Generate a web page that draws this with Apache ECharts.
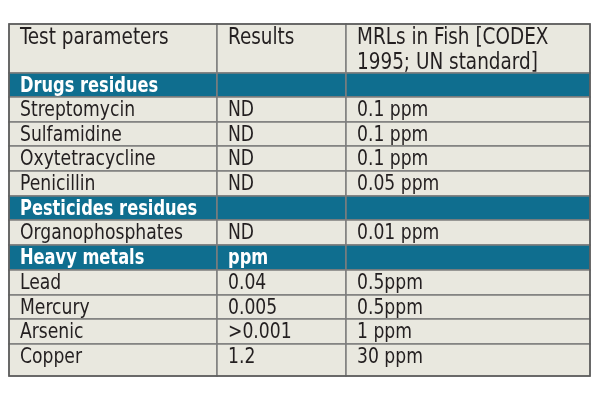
<!DOCTYPE html>
<html>
<head>
<meta charset="utf-8">
<script src="https://cdn.jsdelivr.net/npm/echarts@6/dist/echarts.min.js"></script>
<style>
  html, body { margin: 0; padding: 0; background: #fff; }
  #main { width: 600px; height: 400px; }
</style>
</head>
<body>
<div id="main"></div>
<script>
// table content
const headers = ['Test parameters', 'Results', 'MRLs in Fish [CODEX\n1995; UN standard]']
const parameters = ['Drugs residues', 'Streptomycin', 'Sulfamidine', 'Oxytetracycline', 'Penicillin',
    'Pesticides residues', 'Organophosphates', 'Heavy metals', 'Lead', 'Mercury', 'Arsenic', 'Copper']
const results = ['', 'ND', 'ND', 'ND', 'ND', '', 'ND', 'ppm', '0.04', '0.005', '>0.001', '1.2']
const limits = ['', '0.1 ppm', '0.1 ppm', '0.1 ppm', '0.05 ppm', '', '0.01 ppm', '', '0.5ppm', '0.5ppm', '1 ppm', '30 ppm']
const sectionRows = ['Drugs residues', 'Pesticides residues', 'Heavy metals']

// layout (axis units = px inside the grid)
const colEdges = [0, 208, 337, 581]
const rowEdges = [0, 49, 73, 98, 122, 147, 172, 196, 221, 246, 271, 295, 320, 352]

const FONT = '"DejaVu Sans Condensed", "DejaVu Sans", sans-serif'
const CREAM = '#e9e8df'
const BLUE = '#0f6e8f'

let cells = []
headers.forEach((t, c) => cells.push({ value: [c, 0], text: t, kind: 'head' }))
parameters.forEach((p, i) => {
    let kind = sectionRows.includes(p) ? 'section' : 'body'
    ;[p, results[i], limits[i]].forEach((t, c) => cells.push({ value: [c, i + 1], text: t, kind: kind }))
})

function renderCell(params, api) {
    let cell = cells[params.dataIndex]
    let c = cell.value[0], r = cell.value[1]
    let p0 = api.coord([colEdges[c], rowEdges[r]])
    let p1 = api.coord([colEdges[c + 1], rowEdges[r + 1]])
    let x = p0[0], y = p0[1], w = p1[0] - p0[0], h = p1[1] - p0[1]
    let sec = cell.kind === 'section'
    let head = cell.kind === 'head'
    return {
        type: 'group',
        children: [
            {
                type: 'rect',
                z2: 0,
                shape: { x: x, y: y, width: w, height: h },
                style: { fill: sec ? BLUE : CREAM, stroke: '#7d7d7d', lineWidth: 1.5 }
            },
            {
                type: 'text',
                z2: 10,
                x: x + 11,
                y: head ? y + 2 : y + 14,
                scaleX: sec ? 0.86 : 0.91,
                style: {
                    text: cell.text,
                    fill: sec ? '#ffffff' : '#231f20',
                    fontFamily: FONT,
                    fontSize: head ? 22.5 : 21,
                    fontWeight: sec ? 'bold' : 'normal',
                    lineHeight: 24.5,
                    verticalAlign: head ? 'top' : 'middle'
                }
            }
        ]
    }
}

let option = {
    animation: false,
    grid: { left: 9, right: 10, top: 24, bottom: 24 },
    xAxis: { type: 'value', min: 0, max: 581, show: false },
    yAxis: { type: 'value', min: 0, max: 352, inverse: true, show: false },
    series: [
        {
            type: 'custom',
            renderItem: renderCell,
            encode: { x: 0, y: 1 },
            data: cells.map(d => d.value)
        }
    ],
    graphic: [
        {
            type: 'rect',
            shape: { x: 9, y: 24, width: 581, height: 352 },
            style: { fill: 'none', stroke: '#5a5a5a', lineWidth: 1.5 },
            z: 100
        }
    ]
}

let chart = echarts.init(document.getElementById('main'))
chart.setOption(option)
</script>
</body>
</html>
